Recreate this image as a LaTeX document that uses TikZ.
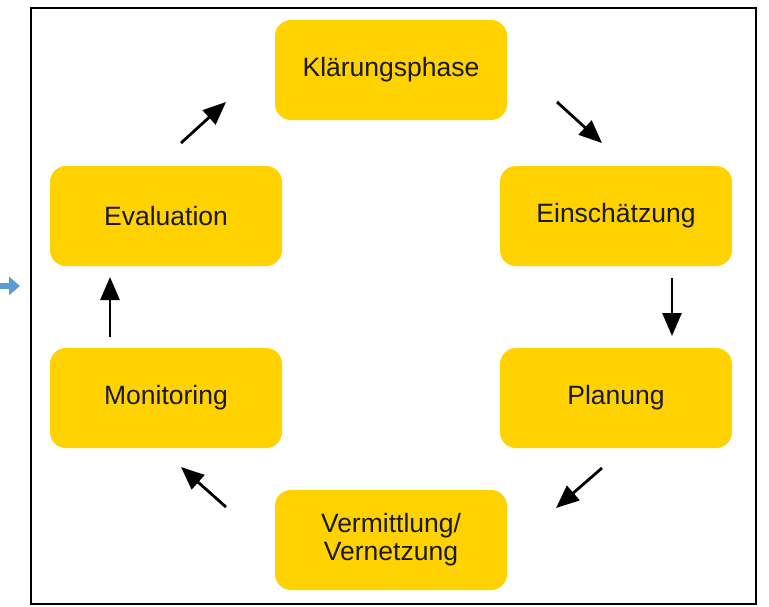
\documentclass[tikz,border=0pt]{standalone}
\usepackage{fontspec}
\setmainfont{Liberation Sans}
\usetikzlibrary{arrows.meta}
\definecolor{boxyellow}{HTML}{FFD200}
\definecolor{arrowblue}{HTML}{5B9BD5}
\tikzset{
  phase/.style={fill=boxyellow, draw=none, rounded corners=16pt, minimum width=232pt, minimum height=100pt,
    align=center, font=\fontsize{26.5}{28}\selectfont, text=black!90},
  flow/.style={line width=2.8pt, -{Triangle[length=23pt,width=19pt]}},
}
\begin{document}
\begin{tikzpicture}[x=1pt,y=-1pt]
\useasboundingbox (0,0) rectangle (769,606);
\draw[line width=2.4pt] (31,8) rectangle (756,604);
\node[phase] (kl) at (391,70) {Klärungsphase};
\node[phase] (ei) at (616,216) {Einschätzung};
\node[phase] (pl) at (616,398) {Planung};
\node[phase] (ve) at (391,540) {Vermittlung/\\Vernetzung};
\node[phase] (mo) at (166,398) {Monitoring};
\node[phase] (ev) at (166,216) {Evaluation};
\coordinate (a1s) at (181,143); \coordinate (a1e) at (226,102);
\coordinate (a2s) at (557,102); \coordinate (a2e) at (602,143);
\coordinate (a3s) at (672,278); \coordinate (a3e) at (672,336);
\coordinate (a4s) at (602,468); \coordinate (a4e) at (556,508);
\coordinate (a5s) at (226,507); \coordinate (a5e) at (181,467);
\coordinate (a6s) at (110,337); \coordinate (a6e) at (110,277);
\draw[flow] (a1s) -- (a1e);
\draw[flow] (a2s) -- (a2e);
\draw[flow] (a3s) -- (a3e);
\draw[flow] (a4s) -- (a4e);
\draw[flow] (a5s) -- (a5e);
\draw[flow] (a6s) -- (a6e);
\coordinate (bs) at (0,286); \coordinate (be) at (20,286);
\draw[arrowblue, line width=6pt, -{Triangle[length=11pt,width=18pt]}] (bs) -- (be);
\end{tikzpicture}
\end{document}
